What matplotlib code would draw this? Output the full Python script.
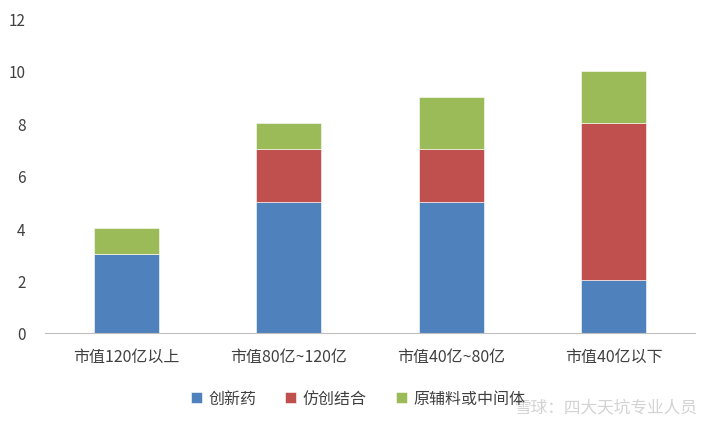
import numpy as np
import matplotlib.pyplot as plt

plt.rcParams['font.family'] = ['Noto Sans CJK SC', 'DejaVu Sans']

categories = ['市值120亿以上', '市值80亿~120亿', '市值40亿~80亿', '市值40亿以下']
series_names = ['创新药', '仿创结合', '原辅料或中间体']
innovative = [3, 5, 5, 2]
generic_innov = [0, 2, 2, 6]
api_mid = [1, 1, 2, 2]
colors = ['#4F81BD', '#C0504D', '#9BBB59']

fig = plt.figure(figsize=(7.16, 4.27), dpi=100)
ax = fig.add_axes([0.063, 0.218, 0.908, 0.737])

x = np.arange(len(categories))
width = 0.4
bottom = np.zeros(len(categories))
for vals, name, c in zip([innovative, generic_innov, api_mid], series_names, colors):
    ax.bar(x, vals, width, bottom=bottom, color=c, label=name, edgecolor='white', linewidth=0.4)
    bottom += np.array(vals)

ax.set_xlim(-0.5, len(categories) - 0.5)
ax.set_ylim(0, 12)
ax.set_yticks(range(0, 13, 2))
ax.set_xticks(x)
ax.set_xticklabels(categories, fontsize=11.5)
for s in ['top', 'right', 'left']:
    ax.spines[s].set_visible(False)
ax.spines['bottom'].set_color('#BFBFBF')
ax.tick_params(axis='both', length=0, labelsize=11, colors='#404040')
ax.tick_params(axis='x', pad=11, labelsize=11.5)
ax.tick_params(axis='y', pad=14)

leg = fig.legend(loc='center', bbox_to_anchor=(0.5, 0.065), ncol=3, frameon=False,
                 fontsize=11.5, handlelength=0.7, handleheight=0.7, handletextpad=0.4,
                 columnspacing=1.8)
for t in leg.get_texts():
    t.set_color('#404040')

# watermark
fig.text(0.975, 0.045, '雪球：四大天坑专业人员', ha='right', va='center',
         fontsize=12, color='#C8C8C8', alpha=0.8)

fig.savefig('out.png', dpi=100)
